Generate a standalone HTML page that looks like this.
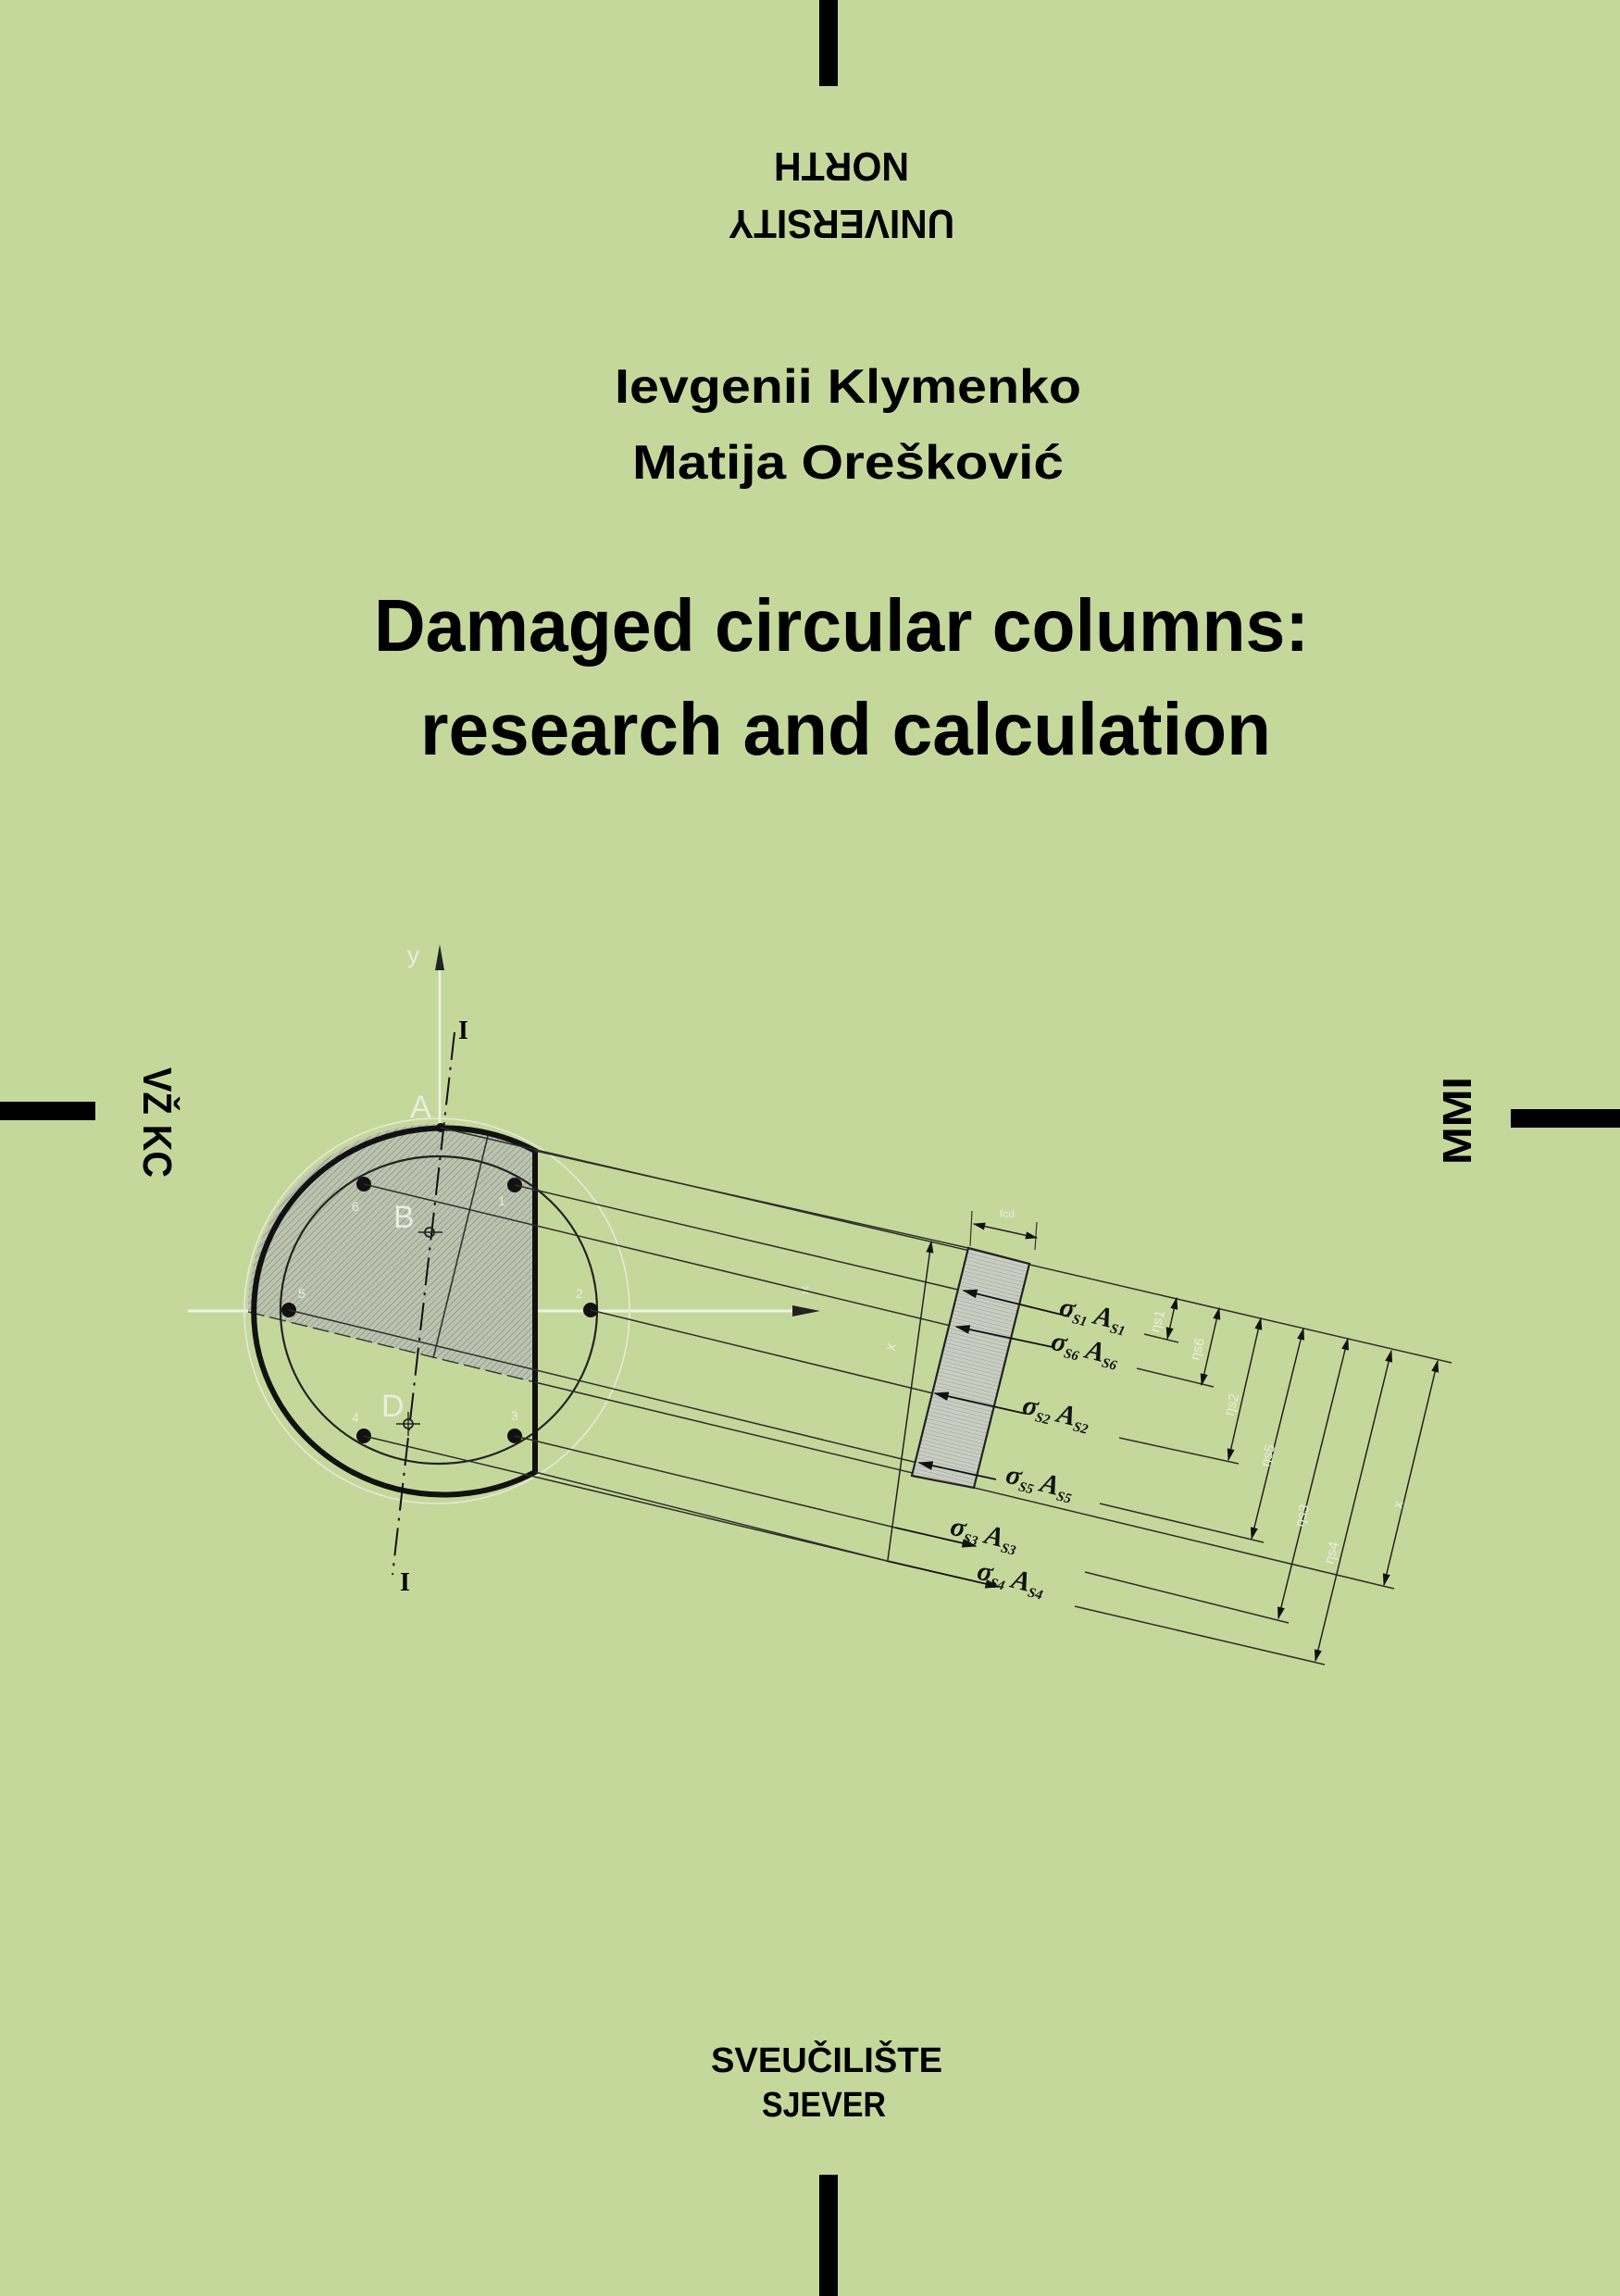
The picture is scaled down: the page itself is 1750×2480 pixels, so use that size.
<!DOCTYPE html>
<html><head><meta charset="utf-8"><style>
html,body{margin:0;padding:0;background:#c5d89c;}
svg{display:block;}
.t{font-family:"Liberation Sans",sans-serif;font-weight:bold;fill:#000;}
.s{font-family:"Liberation Serif",serif;font-weight:bold;font-style:italic;fill:#111;}
.lt{font-family:"Liberation Sans",sans-serif;fill:#e9eedf;}
</style></head><body>
<svg width="1750" height="2480" viewBox="0 0 1750 2480" xmlns="http://www.w3.org/2000/svg">
<defs>
<pattern id="h" width="5" height="5" patternUnits="userSpaceOnUse" patternTransform="rotate(45)">
<rect width="5" height="5" fill="#bcc4b0"/><line x1="0" y1="0" x2="0" y2="5" stroke="#8c9486" stroke-width="1.6"/>
</pattern>
<pattern id="h2" width="4" height="4" patternUnits="userSpaceOnUse" patternTransform="rotate(14)">
<rect width="4" height="4" fill="#c9cdc2"/><line x1="0" y1="0" x2="4" y2="0" stroke="#9a9f95" stroke-width="1"/>
</pattern>
<marker id="ar" viewBox="0 0 10 10" refX="9" refY="5" markerWidth="9" markerHeight="9" orient="auto-start-reverse"><path d="M0,2 L10,5 L0,8 z" fill="#111"/></marker>
</defs>
<rect width="1750" height="2480" fill="#c5d89c"/>
<rect x="885" y="0" width="20" height="93" fill="#000"/>
<rect x="885" y="2349" width="20" height="131" fill="#000"/>
<rect x="0" y="1190" width="103" height="20" fill="#000"/>
<rect x="1632" y="1198" width="118" height="20" fill="#000"/>
<g transform="rotate(180 909 180)">
<text class="t" x="909" y="195" font-size="44" text-anchor="middle" textLength="146" lengthAdjust="spacingAndGlyphs">NORTH</text>
<text class="t" x="909" y="133" font-size="44" text-anchor="middle" textLength="244" lengthAdjust="spacingAndGlyphs">UNIVERSITY</text>
</g>
<text class="t" transform="translate(155 1153) rotate(90)" x="0" y="0" font-size="44" textLength="119" lengthAdjust="spacingAndGlyphs">VŽ KC</text>
<text class="t" transform="translate(1589 1258) rotate(-90)" x="0" y="0" font-size="44" textLength="95" lengthAdjust="spacingAndGlyphs">MMI</text>
<text class="t" x="664" y="435" font-size="52" textLength="504" lengthAdjust="spacingAndGlyphs">Ievgenii Klymenko</text>
<text class="t" x="683" y="517" font-size="52" textLength="466" lengthAdjust="spacingAndGlyphs">Matija Orešković</text>
<text class="t" x="404" y="703" font-size="80" textLength="1010" lengthAdjust="spacingAndGlyphs">Damaged circular columns:</text>
<text class="t" x="454" y="815" font-size="80" textLength="919" lengthAdjust="spacingAndGlyphs">research and calculation</text>
<text class="t" x="768" y="2238" font-size="38" textLength="250" lengthAdjust="spacingAndGlyphs">SVEUČILIŠTE</text>
<text class="t" x="823" y="2286" font-size="38" textLength="134" lengthAdjust="spacingAndGlyphs">SJEVER</text>

<!-- axes -->
<line x1="203" y1="1416" x2="868" y2="1416" stroke="#eef2e4" stroke-width="3"/>
<path d="M856,1410 L886,1416 L856,1422z" fill="#222"/>
<text class="lt" x="866" y="1398" font-size="16">x</text>
<line x1="475" y1="1030" x2="475" y2="1218" stroke="#eef2e4" stroke-width="2.5"/>
<path d="M470,1048 L475,1020 L480,1048z" fill="#222"/>
<text class="lt" x="440" y="1040" font-size="26">y</text>
<!-- ghost circle -->
<circle cx="472" cy="1416" r="208" fill="none" stroke="#e6ebdc" stroke-width="1.5"/>
<!-- hatched region -->
<path d="M268,1417 A204,198 0 0 1 578,1243 L578,1493 Z" fill="url(#h)"/>
<line x1="268" y1="1417" x2="578" y2="1493" stroke="#333" stroke-width="1.4" stroke-dasharray="18,6"/>
<line x1="527" y1="1227" x2="468" y2="1467" stroke="#333" stroke-width="1.6"/>
<!-- inner circle -->
<ellipse cx="474" cy="1415" rx="171" ry="166" fill="none" stroke="#222" stroke-width="2.2"/>
<!-- outer cut circle -->
<path d="M578,1243 A205,198 0 1 0 578,1590 Z" fill="none" stroke="#111" stroke-width="6"/>
<!-- I-I dashed -->
<line x1="491" y1="1115" x2="424" y2="1701" stroke="#111" stroke-width="2" stroke-dasharray="30,8,3,8"/>
<text x="495" y="1122" font-family="Liberation Serif,serif" font-weight="bold" font-size="28">I</text>
<text x="432" y="1718" font-family="Liberation Serif,serif" font-weight="bold" font-size="28">I</text>
<text class="lt" x="443" y="1207" font-size="34">A</text>
<text class="lt" x="425" y="1326" font-size="34">B</text>
<text class="lt" x="412" y="1530" font-size="34">D</text>
<circle cx="464" cy="1331" r="5" fill="none" stroke="#222" stroke-width="1.8"/>
<line x1="452" y1="1331" x2="478" y2="1331" stroke="#222" stroke-width="1.4"/>
<circle cx="441" cy="1538" r="5" fill="none" stroke="#222" stroke-width="1.8"/>
<line x1="428" y1="1538" x2="454" y2="1538" stroke="#222" stroke-width="1.4"/><line x1="441" y1="1525" x2="441" y2="1551" stroke="#222" stroke-width="1.4"/>
<circle cx="476" cy="1218" r="5" fill="#111"/>
<!-- bars -->
<g fill="#111">
<circle cx="393" cy="1279" r="8"/><circle cx="556" cy="1280" r="8"/>
<circle cx="312" cy="1415" r="8"/><circle cx="638" cy="1415" r="8"/>
<circle cx="393" cy="1551" r="8"/><circle cx="556" cy="1551" r="8"/>
</g>
<g class="lt" font-size="14" fill="#dfe4d4"><text x="380" y="1308">6</text><text x="538" y="1302">1</text><text x="322" y="1402">5</text><text x="622" y="1402">2</text><text x="380" y="1536">4</text><text x="552" y="1534">3</text></g>

<!-- projection lines -->
<g stroke="#2b2f28" stroke-width="1.5" fill="none">
<line x1="476" y1="1218" x2="1568" y2="1472"/>
<line x1="578" y1="1243" x2="1046" y2="1348"/>
<line x1="556" y1="1280" x2="1039" y2="1394"/>
<line x1="393" y1="1279" x2="1031" y2="1433"/>
<line x1="638" y1="1415" x2="1008" y2="1505"/>
<line x1="312" y1="1415" x2="991" y2="1580"/>
<line x1="578" y1="1493" x2="1506" y2="1716"/>
<line x1="556" y1="1551" x2="967" y2="1650"/>
<line x1="393" y1="1551" x2="958" y2="1686"/>
<line x1="578" y1="1590" x2="958" y2="1686"/>
</g>
<!-- stress block -->
<path d="M1046,1348 L1112,1365 L1052,1607 L985,1594 Z" fill="url(#h2)" stroke="#222" stroke-width="2.2"/>
<line x1="1050" y1="1308" x2="1048" y2="1346" stroke="#333" stroke-width="1.2"/>
<line x1="1120" y1="1320" x2="1118" y2="1350" stroke="#333" stroke-width="1.2"/>
<line x1="1052" y1="1322" x2="1120" y2="1337" stroke="#222" stroke-width="1.5" marker-start="url(#ar)" marker-end="url(#ar)"/>
<text class="lt" x="1080" y="1315" font-size="12" fill="#666">fcd</text>
<!-- left x dim -->
<line x1="1006" y1="1341" x2="959" y2="1685" stroke="#222" stroke-width="1.5" marker-start="url(#ar)"/>
<text class="lt" transform="translate(966 1460) rotate(-75)" font-size="16" fill="#666">x</text>
<!-- force arrows -->
<g stroke="#111" stroke-width="1.8">
<line x1="1155" y1="1422" x2="1041" y2="1394" marker-end="url(#ar)"/>
<line x1="1137" y1="1455" x2="1033" y2="1433" marker-end="url(#ar)"/>
<line x1="1108" y1="1527" x2="1010" y2="1505" marker-end="url(#ar)"/>
<line x1="1076" y1="1598" x2="993" y2="1580" marker-end="url(#ar)"/>
<line x1="967" y1="1650" x2="1054" y2="1670" marker-end="url(#ar)"/>
<line x1="958" y1="1686" x2="1079" y2="1714" marker-end="url(#ar)"/>
</g>
<g class="s" font-size="30">
<text transform="translate(1143 1420) rotate(14)">σ<tspan font-size="15" dy="5">S1</tspan><tspan dy="-5"> A</tspan><tspan font-size="15" dy="5">S1</tspan></text>
<text transform="translate(1134 1457) rotate(14)">σ<tspan font-size="15" dy="5">S6</tspan><tspan dy="-5"> A</tspan><tspan font-size="15" dy="5">S6</tspan></text>
<text transform="translate(1103 1526) rotate(14)">σ<tspan font-size="15" dy="5">S2</tspan><tspan dy="-5"> A</tspan><tspan font-size="15" dy="5">S2</tspan></text>
<text transform="translate(1085 1601) rotate(14)">σ<tspan font-size="15" dy="5">S5</tspan><tspan dy="-5"> A</tspan><tspan font-size="15" dy="5">S5</tspan></text>
<text transform="translate(1025 1657) rotate(14)">σ<tspan font-size="15" dy="5">S3</tspan><tspan dy="-5"> A</tspan><tspan font-size="15" dy="5">S3</tspan></text>
<text transform="translate(1054 1705) rotate(14)">σ<tspan font-size="15" dy="5">S4</tspan><tspan dy="-5"> A</tspan><tspan font-size="15" dy="5">S4</tspan></text>
</g>
<!-- right extension lines -->
<g stroke="#2b2f28" stroke-width="1.5">
<line x1="1236" y1="1441" x2="1273" y2="1450"/>
<line x1="1228" y1="1478" x2="1311" y2="1498"/>
<line x1="1209" y1="1553" x2="1338" y2="1581"/>
<line x1="1188" y1="1624" x2="1365" y2="1666"/>
<line x1="1172" y1="1698" x2="1392" y2="1753"/>
<line x1="1161" y1="1735" x2="1431" y2="1798"/>
</g>
<g stroke="#222" stroke-width="1.5">
<line x1="1271" y1="1402" x2="1261" y2="1446" marker-start="url(#ar)" marker-end="url(#ar)"/>
<line x1="1317" y1="1413" x2="1298" y2="1496" marker-start="url(#ar)" marker-end="url(#ar)"/>
<line x1="1362" y1="1424" x2="1327" y2="1577" marker-start="url(#ar)" marker-end="url(#ar)"/>
<line x1="1408" y1="1435" x2="1352" y2="1662" marker-start="url(#ar)" marker-end="url(#ar)"/>
<line x1="1456" y1="1446" x2="1381" y2="1748" marker-start="url(#ar)" marker-end="url(#ar)"/>
<line x1="1503" y1="1459" x2="1421" y2="1794" marker-start="url(#ar)" marker-end="url(#ar)"/>
<line x1="1553" y1="1470" x2="1495" y2="1712" marker-start="url(#ar)" marker-end="url(#ar)"/>
</g>
<g class="lt" font-size="15" fill="#eef2e6">
<text transform="translate(1252 1440) rotate(-75)">ηs1</text>
<text transform="translate(1295 1470) rotate(-75)">ηs6</text>
<text transform="translate(1332 1530) rotate(-75)">ηs2</text>
<text transform="translate(1371 1585) rotate(-75)">ηs5</text>
<text transform="translate(1408 1650) rotate(-75)">ηs3</text>
<text transform="translate(1440 1690) rotate(-75)">ηs4</text>
<text transform="translate(1514 1630) rotate(-75)">x</text>
</g>
</svg>
</body></html>
